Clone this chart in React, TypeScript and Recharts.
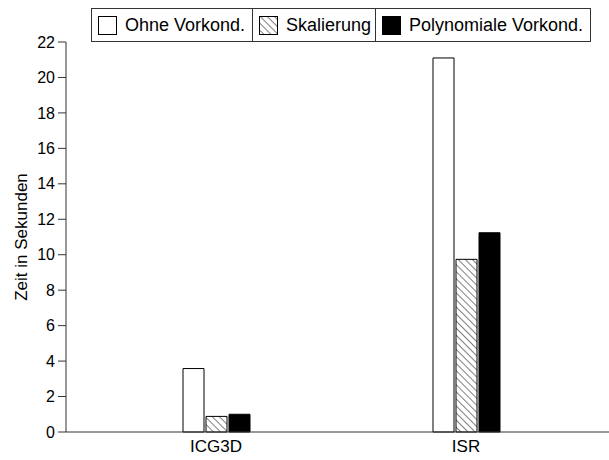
import { Bar, BarChart, XAxis, YAxis } from "recharts"

const categories = ["ICG3D", "ISR"]
const ohneVorkond = [3.58, 21.1]
const skalierung = [0.88, 9.74]
const polynomiale = [1.0, 11.24]
const yTicks = [0, 2, 4, 6, 8, 10, 12, 14, 16, 18, 20, 22]

const seriesNames = ["Ohne Vorkond.", "Skalierung", "Polynomiale Vorkond."]
const seriesFills = ["#ffffff", "url(#hatch)", "#000000"]
const legendWidths = [160, 123, 215]

const data = categories.map((name, i) => ({
  name,
  ohne: ohneVorkond[i],
  skal: skalierung[i],
  poly: polynomiale[i],
}))

const font = "'Liberation Sans', Arial, Helvetica, sans-serif"

function LegendBox() {
  return (
    <div
      style={{
        position: "absolute",
        top: 8,
        left: 91,
        display: "flex",
        border: "1px solid #333",
        background: "#fff",
        fontFamily: font,
        fontSize: 18,
        color: "#000",
        height: 34,
        boxSizing: "border-box",
      }}
    >
      {seriesNames.map((name, i) => (
        <div
          key={name}
          style={{
            width: legendWidths[i],
            display: "flex",
            alignItems: "center",
            paddingLeft: 6,
            boxSizing: "border-box",
            borderLeft: i > 0 ? "1px solid #333" : "none",
          }}
        >
          <svg width={19} height={19} style={{ marginRight: 8 }}>
            <defs>
              <pattern id={`lh${i}`} width={5} height={5} patternUnits="userSpaceOnUse" patternTransform="rotate(-45)">
                <rect width={5} height={5} fill="#fff" />
                <line x1={0} y1={0} x2={0} y2={5} stroke="#000" strokeWidth={1} />
              </pattern>
            </defs>
            <rect
              x={0.5}
              y={0.5}
              width={18}
              height={18}
              fill={i === 1 ? `url(#lh${i})` : seriesFills[i]}
              stroke="#000"
            />
          </svg>
          <span>{name}</span>
        </div>
      ))}
    </div>
  )
}

export default function App() {
  return (
    <div style={{ position: "absolute", left: 0, top: 0, width: 609, height: 460, background: "#fff" }}>
      <BarChart
        width={609}
        height={460}
        data={data}
        margin={{ top: 42, right: 0, left: 0, bottom: 0 }}
        barSize={21}
        barGap={2}
      >
        <defs>
          <pattern id="hatch" width={5} height={5} patternUnits="userSpaceOnUse" patternTransform="rotate(-45)">
            <rect width={5} height={5} fill="#fff" />
            <line x1={0} y1={0} x2={0} y2={5} stroke="#000" strokeWidth={1} />
          </pattern>
        </defs>
        <XAxis
          dataKey="name"
          height={28}
          padding={{ left: 25, right: 18 }}
          tickLine={false}
          axisLine={{ stroke: "#333" }}
          tick={{ fill: "#000", fontSize: 17, fontFamily: font }}
        />
        <YAxis
          width={66}
          domain={[0, 22]}
          ticks={yTicks}
          tickSize={8}
          tickMargin={3}
          interval={0}
          axisLine={{ stroke: "#333" }}
          tickLine={{ stroke: "#333" }}
          tick={{ fill: "#000", fontSize: 16, fontFamily: font }}
          label={{
            value: "Zeit in Sekunden",
            angle: -90,
            position: "insideLeft",
            dx: 16,
            dy: 0,
            style: { fill: "#000", fontSize: 17, fontFamily: font, textAnchor: "middle" },
          }}
        />
        <Bar dataKey="ohne" fill={seriesFills[0]} stroke="#000" isAnimationActive={false} />
        <Bar dataKey="skal" fill={seriesFills[1]} stroke="#000" isAnimationActive={false} />
        <Bar dataKey="poly" fill={seriesFills[2]} stroke="#000" isAnimationActive={false} />
      </BarChart>
      <LegendBox />
    </div>
  )
}
